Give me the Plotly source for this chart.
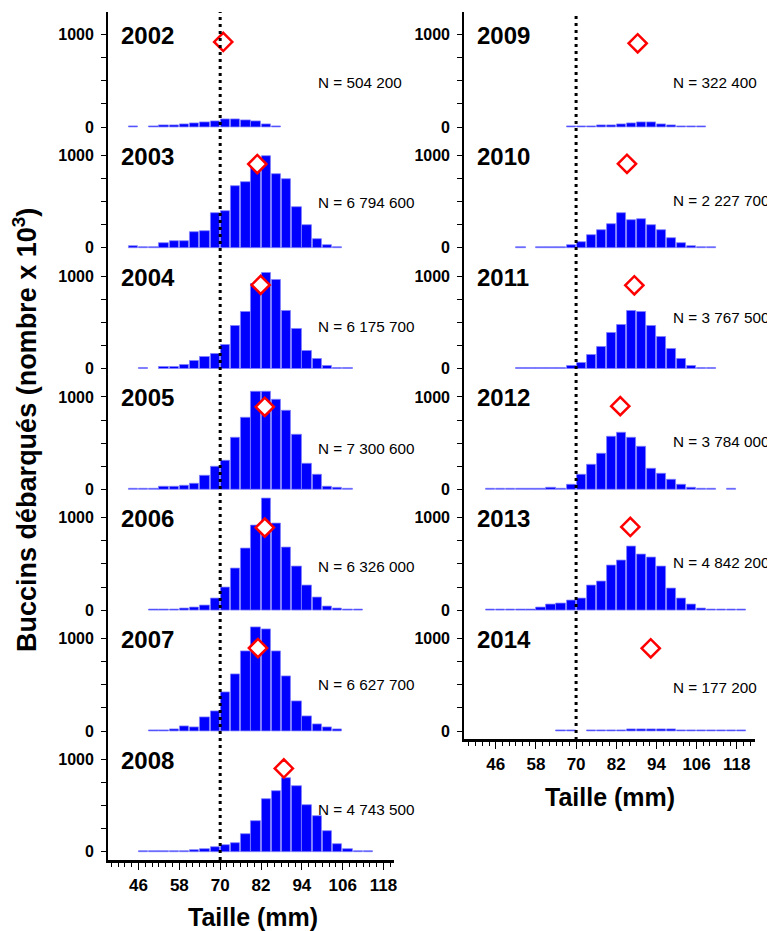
import plotly.graph_objects as go

# size classes (mm), bin centres of 3 mm classes
bins = [44.5, 47.5, 50.5, 53.5, 56.5, 59.5, 62.5, 65.5, 68.5, 71.5, 74.5, 77.5, 80.5,
        83.5, 86.5, 89.5, 92.5, 95.5, 98.5, 101.5, 104.5, 107.5, 110.5, 113.5, 116.5, 119.5]

# landings per size class (nombre x 10^3)
c2002 = [3, None, 3, 15, 20, 28, 35, 48, 62, 88, 82, 72, 62, 30, 4, None, None, None, None, None, None, None, None, None, None, None]
c2003 = [14, 8, 8, 54, 68, 72, 166, 180, 371, 393, 663, 714, 880, 990, 800, 746, 436, 249, 94, 32, 11, None, None, None, None, None]
c2004 = [None, 3, None, 14, 14, 36, 79, 130, 159, 259, 458, 616, 915, 1038, 955, 627, 432, 191, 101, 32, 3, 3, None, None, None, None]
c2005 = [3, 3, 3, 29, 29, 40, 58, 148, 245, 314, 562, 778, 1052, 1056, 969, 847, 591, 281, 162, 32, 22, 7, None, None, None, None]
c2006 = [None, None, 4, 6, 11, 18, 29, 47, 130, 249, 454, 663, 919, 1211, 941, 674, 472, 270, 133, 43, 22, 5, 4, None, None, None]
c2007 = [None, None, 3, 7, 22, 50, 43, 148, 209, 414, 609, 865, 1124, 1099, 865, 591, 324, 159, 68, 36, 14, None, None, None, None, None]
c2008 = [None, 3, 3, 3, 4, 5, 18, 29, 47, 72, 97, 195, 332, 569, 656, 793, 710, 508, 382, 223, 83, 29, 11, 4, None, None]
c2009 = [None, None, None, None, None, None, None, None, 5, 5, 8, 15, 22, 28, 42, 54, 54, 33, 21, 12, 6, 4, None, None, None, None]
c2010 = [None, None, None, 3, None, 3, 4, 5, 32, 61, 133, 187, 252, 375, 303, 314, 249, 195, 105, 50, 18, 7, 4, None, None, None]
c2011 = [None, None, None, 3, 3, 3, 4, 11, 29, 61, 144, 234, 382, 472, 620, 613, 461, 342, 209, 108, 32, 4, 4, None, None, None]
c2012 = [3, 3, 4, 5, 7, 11, 18, 13, 50, 162, 270, 385, 565, 609, 559, 458, 227, 173, 108, 54, 18, 11, 3, None, 3, None]
c2013 = [3, 4, 5, 6, 7, 29, 65, 72, 108, 126, 263, 306, 479, 541, 685, 598, 566, 468, 234, 126, 58, 14, 5, 3, 3, 3]
c2014 = [None, None, None, None, None, None, None, 3, 3, None, 3, 3, 10, 13, 17, 17, 20, 20, 16, 10, 5, 3, 3, 3, 3, 3]

years = [2002, 2003, 2004, 2005, 2006, 2007, 2008, 2009, 2010, 2011, 2012, 2013, 2014]
counts = [c2002, c2003, c2004, c2005, c2006, c2007, c2008, c2009, c2010, c2011, c2012, c2013, c2014]
totals = ["504 200", "6 794 600", "6 175 700", "7 300 600", "6 326 000", "6 627 700", "4 743 500",
          "322 400", "2 227 700", "3 767 500", "3 784 000", "4 842 200", "177 200"]

# red diamonds
mean_x = [70.9, 80.9, 81.9, 83.1, 83.1, 81.1, 88.7, 88.4, 85.2, 87.4, 83.2, 86.2, 92.3]
mean_y = [919, 905, 905, 893, 893, 897, 901, 905, 908, 901, 900, 900, 894]

# N label heights inside each panel
n_label_y = [476, 493, 454, 439, 476, 505, 454, 476, 508, 551, 519, 519, 465]

x_ticks = [46, 58, 70, 82, 94, 106, 118]

W, H = 775, 931
OFF = 8  # page body margin


def px(p):
    return (p - OFF) / W


def py(p):
    return 1 - (p - OFF) / H


S = 0.0925          # px per unit
YMIN, YMAX = -90, 1240
BOLD = dict(family="Liberation Sans, Arial", color="black", weight="bold")

fig = go.Figure()
layout = {}
annotations = []

for i, year in enumerate(years):
    k = i + 1
    col = 0 if i < 7 else 1
    row = i if i < 7 else i - 7
    base = 127 + 120.8 * row
    bottom_panel = (i == 6) or (i == 12)

    if col == 0:
        xr = [37, 121]
        xdom = [px(221 + (xr[0] - 70) * 3.417), px(221 + (xr[1] - 70) * 3.417)]
    else:
        xr = [36.5, 123.5]
        xdom = [px(578.3 + (xr[0] - 70) * 3.36), px(578.3 + (xr[1] - 70) * 3.36)]
    ydom = [py(base - YMIN * S), py(base - YMAX * S)]

    xa = dict(domain=xdom, range=xr, anchor="y%d" % k, showgrid=False, zeroline=False)
    if bottom_panel:
        xa.update(showline=True, linecolor="black", linewidth=2.5,
                  tickvals=x_ticks, ticks="outside", ticklen=7, tickwidth=1.3,
                  tickcolor="black", ticklabelstandoff=1,
                  tickfont=dict(size=17, **BOLD),
                  minor=dict(dtick=2, tick0=0, ticks="outside", ticklen=4,
                             tickwidth=1, tickcolor="black"))
    else:
        xa.update(showline=False, showticklabels=False, ticks="")
    ya = dict(domain=ydom, range=[YMIN, YMAX], anchor="x%d" % k,
              showgrid=False, zeroline=False, showline=True, linecolor="black",
              linewidth=1.5, tickvals=[0, 250, 500, 750, 1000],
              ticktext=["0", "", "", "", "1000"], ticks="outside", ticklen=5,
              tickwidth=1.2, tickcolor="black", ticklabelstandoff=4,
              tickfont=dict(size=16, **BOLD))
    suffix = "" if k == 1 else str(k)
    layout["xaxis" + suffix] = xa
    layout["yaxis" + suffix] = ya

    fig.add_trace(go.Bar(x=bins, y=counts[i], width=2.75,
                         marker=dict(color="#0000ff", line=dict(color="#8080ff", width=0.8)),
                         xaxis="x%d" % k, yaxis="y%d" % k))
    fig.add_trace(go.Scatter(x=[mean_x[i]], y=[mean_y[i]], mode="markers",
                             marker=dict(symbol="diamond", size=14, color="white",
                                         line=dict(color="#ff0000", width=2.5)),
                             xaxis="x%d" % k, yaxis="y%d" % k))

    annotations.append(dict(text=str(year), xref="x%d" % k, yref="y%d" % k,
                            x=40.4 if col == 0 else 39.9, y=990, xanchor="left",
                            yanchor="middle", showarrow=False,
                            font=dict(size=24, **BOLD)))
    annotations.append(dict(text="N = " + totals[i], xref="x%d" % k, yref="y%d" % k,
                            x=98.1 if col == 0 else 98.3, y=n_label_y[i], xanchor="left",
                            yanchor="middle", showarrow=False,
                            font=dict(size=15.3, family="Liberation Sans, Arial", color="black")))

# axis titles
annotations.append(dict(text="Taille (mm)", xref="paper", yref="paper", x=px(254), y=py(917),
                        xanchor="center", yanchor="middle", showarrow=False,
                        font=dict(size=25, **BOLD)))
annotations.append(dict(text="Taille (mm)", xref="paper", yref="paper", x=px(612), y=py(797),
                        xanchor="center", yanchor="middle", showarrow=False,
                        font=dict(size=25, **BOLD)))
annotations.append(dict(text="Buccins débarqués (nombre x 10<sup>3</sup>)", xref="paper",
                        yref="paper", x=px(25), y=py(430), xanchor="center", yanchor="middle",
                        textangle=-90, showarrow=False, font=dict(size=27, **BOLD)))

# legal minimum size line at 70 mm
shapes = [
    dict(type="line", xref="x", yref="paper", x0=70, x1=70, y0=py(860), y1=py(12),
         line=dict(color="black", width=3, dash="3px,4px")),
    dict(type="line", xref="x8", yref="paper", x0=70, x1=70, y0=py(740), y1=py(12),
         line=dict(color="black", width=3, dash="3px,4px")),
]

fig.update_layout(**layout)
fig.update_layout(width=W, height=H, margin=dict(l=0, r=0, t=0, b=0),
                  plot_bgcolor="white", paper_bgcolor="white", showlegend=False,
                  bargap=0, annotations=annotations, shapes=shapes,
                  font=dict(family="Liberation Sans, Arial"))

fig.write_html("out.html")
